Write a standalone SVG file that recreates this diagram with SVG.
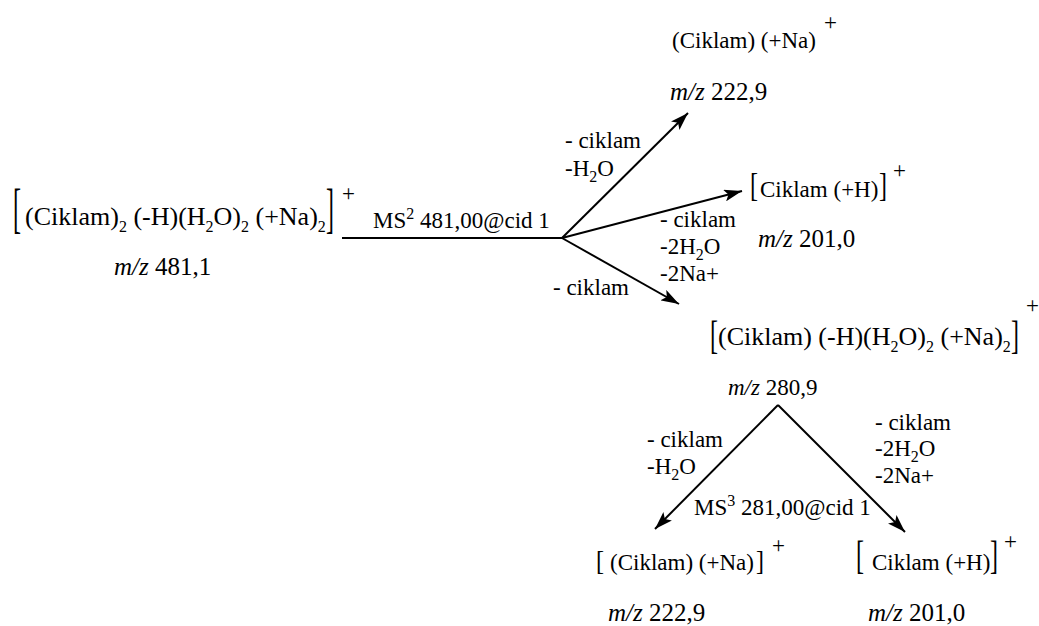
<svg xmlns="http://www.w3.org/2000/svg" width="1039" height="626" viewBox="0 0 1039 626">
<style>
.t{font-family:"Liberation Serif","DejaVu Serif","Times New Roman",serif;font-size:23px;fill:#000}
.big{font-size:25px}
.fm{font-size:26px}
.br{font-size:24px}
.sub{font-size:16px}
.i{font-style:italic}
.ln{stroke:#000;stroke-width:2;fill:none}
</style>
<defs>
<marker id="ah" markerUnits="userSpaceOnUse" markerWidth="20" markerHeight="12" refX="18" refY="6" orient="auto">
<path d="M0,0 L18,6 L0,12 L4,6 Z" fill="#000"/>
</marker>
</defs>
<rect width="1039" height="626" fill="#fff"/>
<g id="connectors">
<line class="ln" x1="342" y1="238" x2="562" y2="238"/>
<line class="ln" x1="562" y1="238" x2="688" y2="113" marker-end="url(#ah)"/>
<line class="ln" x1="562" y1="238" x2="742" y2="191" marker-end="url(#ah)"/>
<line class="ln" x1="562" y1="238" x2="679" y2="304" marker-end="url(#ah)"/>
<line class="ln" x1="778" y1="405" x2="655" y2="529" marker-end="url(#ah)"/>
<line class="ln" x1="778" y1="405" x2="905" y2="532" marker-end="url(#ah)"/>
<text class="t" x="565" y="148">- ciklam</text>
<text class="t" x="565" y="176">-H<tspan class="sub" dy="6">2</tspan><tspan dy="-6">O</tspan></text>
<text class="t" x="373" y="228">MS<tspan class="sub" dy="-9">2</tspan><tspan dy="9"> 481,00@cid 1</tspan></text>
<text class="t" x="660" y="227">- ciklam</text>
<text class="t" x="660" y="254">-2H<tspan class="sub" dy="6">2</tspan><tspan dy="-6">O</tspan></text>
<text class="t" x="660" y="281">-2Na+</text>
<text class="t" x="553" y="295">- ciklam</text>
<text class="t" x="647" y="447">- ciklam</text>
<text class="t" x="647" y="474">-H<tspan class="sub" dy="6">2</tspan><tspan dy="-6">O</tspan></text>
<text class="t" x="875" y="430">- ciklam</text>
<text class="t" x="875" y="456">-2H<tspan class="sub" dy="6">2</tspan><tspan dy="-6">O</tspan></text>
<text class="t" x="875" y="483">-2Na+</text>
<text class="t" x="694" y="515">MS<tspan class="sub" dy="-9">3</tspan><tspan dy="9"> 281,00@cid 1</tspan></text>
</g>
<g id="n-dimer">
<text class="t br" transform="translate(13,226.7) scale(1,2.29)">[</text>
<text class="t fm" x="25" y="225">(Ciklam)<tspan class="sub" dy="7">2</tspan><tspan dy="-7"> (-H)(H</tspan><tspan class="sub" dy="7">2</tspan><tspan dy="-7">O)</tspan><tspan class="sub" dy="7">2</tspan><tspan dy="-7"> (+Na)</tspan><tspan class="sub" dy="7">2</tspan></text>
<text class="t br" transform="translate(326,226.7) scale(1,2.29)">]</text>
<text class="t" x="342" y="201">+</text>
<text class="t big" x="114" y="275"><tspan class="i">m/z</tspan> 481,1</text>
</g>
<g id="n-na-top">
<text class="t" x="672" y="48">(Ciklam) (+Na)</text>
<text class="t" x="824" y="30">+</text>
<text class="t big" x="670" y="100"><tspan class="i">m/z</tspan> 222,9</text>
</g>
<g id="n-h-mid">
<text class="t br" transform="translate(750,195.6) scale(1,1.41)">[</text>
<text class="t" x="760" y="197">Ciklam (+H)</text>
<text class="t br" transform="translate(879,195.6) scale(1,1.41)">]</text>
<text class="t" x="893" y="178">+</text>
<text class="t big" x="758" y="247"><tspan class="i">m/z</tspan> 201,0</text>
</g>
<g id="n-mono">
<text class="t br" transform="translate(710,348.5) scale(1,1.66)">[</text>
<text class="t fm" x="718" y="345">(Ciklam) (-H)(H<tspan class="sub" dy="7">2</tspan><tspan dy="-7">O)</tspan><tspan class="sub" dy="7">2</tspan><tspan dy="-7"> (+Na)</tspan><tspan class="sub" dy="7">2</tspan></text>
<text class="t br" transform="translate(1011,348.5) scale(1,1.66)">]</text>
<text class="t" x="1026" y="313">+</text>
<text class="t" x="728" y="395"><tspan class="i">m/z</tspan> 280,9</text>
</g>
<g id="n-na-bottom">
<text class="t br" transform="translate(596,569.5) scale(1,1.15)">[</text>
<text class="t" x="610" y="570">(Ciklam) (+Na)</text>
<text class="t br" transform="translate(756,569.5) scale(1,1.15)">]</text>
<text class="t" x="772" y="553">+</text>
<text class="t big" x="608" y="621"><tspan class="i">m/z</tspan> 222,9</text>
</g>
<g id="n-h-bottom">
<text class="t br" transform="translate(856,569) scale(1,1.7)">[</text>
<text class="t" x="872" y="570">Ciklam (+H)</text>
<text class="t br" transform="translate(990,569) scale(1,1.7)">]</text>
<text class="t" x="1004" y="549">+</text>
<text class="t big" x="868" y="621"><tspan class="i">m/z</tspan> 201,0</text>
</g>
</svg>
